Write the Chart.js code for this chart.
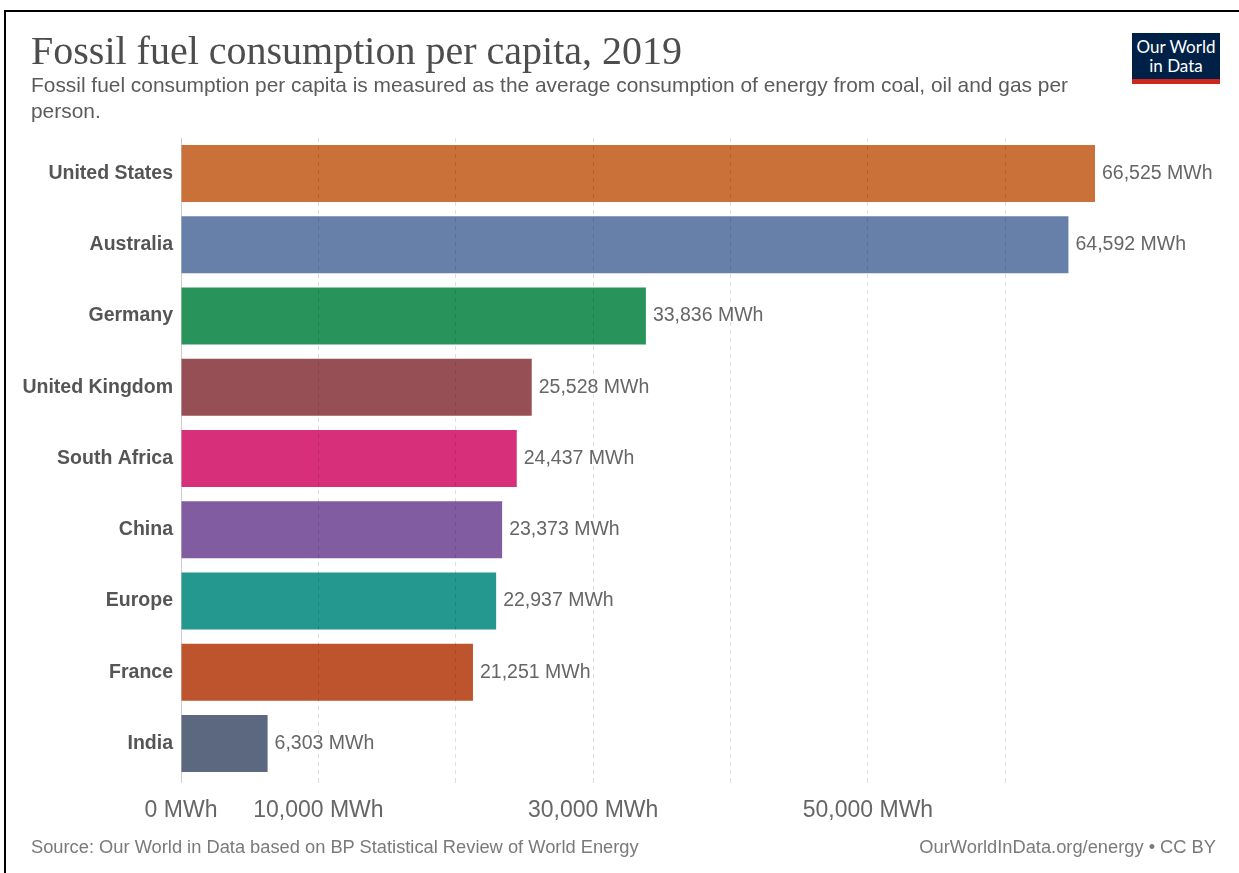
<!DOCTYPE html>
<html>
<head>
<meta charset="utf-8">
<script src="https://cdn.jsdelivr.net/npm/chart.js@4.4.1/dist/chart.umd.min.js"></script>
<style>
  html, body { margin: 0; padding: 0; background: #fff; }
  body { width: 1239px; height: 873px; position: relative; overflow: hidden; font-family: 'Liberation Sans', Arial, sans-serif; }
  #frame { position: absolute; left: 4px; top: 10px; width: 1300px; height: 900px; border-left: 2px solid #000; border-top: 2px solid #000; box-sizing: border-box; pointer-events: none; }
  #title { position: absolute; left: 31px; top: 31px; font-family: 'Liberation Serif', 'Times New Roman', serif; font-size: 40px; line-height: 40px; color: #4d4d4d; white-space: nowrap; }
  #subtitle { position: absolute; left: 31px; top: 72px; font-size: 20.9px; line-height: 26px; color: #5b5b5b; white-space: nowrap; }
  #logo { position: absolute; left: 1132px; top: 33px; width: 88px; height: 51px; background: #002147; border-bottom: 5px solid #ce261e; box-sizing: border-box; color: #fff; font-family: Lato, 'Open Sans', sans-serif; font-size: 17px; line-height: 19px; text-align: center; padding-top: 4px; }
  #source { position: absolute; left: 31px; top: 836px; font-size: 18.3px; line-height: 22px; color: #7a7a7a; white-space: nowrap; }
  #credit { position: absolute; right: 23px; top: 836px; font-size: 18.3px; line-height: 22px; color: #7a7a7a; white-space: nowrap; }
  #wrap { position: absolute; left: 0; top: 0; width: 1239px; height: 873px; }
  canvas { display: block; }
</style>
</head>
<body>
<div id="wrap"><canvas id="c" width="1239" height="873" style="width:1239px;height:873px"></canvas></div>
<div id="frame"></div>
<div id="title">Fossil fuel consumption per capita, 2019</div>
<div id="subtitle">Fossil fuel consumption per capita is measured as the average consumption of energy from coal, oil and gas per<br>person.</div>
<div id="logo">Our World<br>in Data</div>
<div id="source">Source: Our World in Data based on BP Statistical Review of World Energy</div>
<div id="credit">OurWorldInData.org/energy • CC BY</div>
<script>
// ---- data ----
const categories = ['United States', 'Australia', 'Germany', 'United Kingdom', 'South Africa', 'China', 'Europe', 'France', 'India'];
const values = [66525, 64592, 33836, 25528, 24437, 23373, 22937, 21251, 6303];
const barColors = ['#ca7039', '#6780aa', '#28935a', '#974f56', '#d72f7a', '#815ca0', '#24978f', '#bd542d', '#5b6880'];
const gridTicks = [0, 10000, 20000, 30000, 40000, 50000, 60000];
const labeledTicks = [0, 10000, 30000, 50000];
const unit = 'MWh';

const fmt = v => v.toLocaleString('en-US') + ' ' + unit;

const valueLabels = {
  id: 'valueLabels',
  afterDraw(chart) {
    const ctx = chart.ctx;
    const meta = chart.getDatasetMeta(0);
    ctx.save();
    ctx.font = '19.5px "Liberation Sans", Arial, sans-serif';
    ctx.fillStyle = '#666';
    ctx.textAlign = 'left';
    ctx.textBaseline = 'middle';
    meta.data.forEach((bar, i) => {
      ctx.fillText(fmt(values[i]), bar.x + 7, bar.y);
    });
    ctx.restore();
  }
};

new Chart(document.getElementById('c'), {
  type: 'bar',
  data: {
    labels: categories,
    datasets: [{
      data: values,
      backgroundColor: barColors,
      borderWidth: 0,
      barPercentage: 0.8,
      categoryPercentage: 1.0
    }]
  },
  options: {
    indexAxis: 'y',
    responsive: false,
    maintainAspectRatio: false,
    animation: false,
    devicePixelRatio: 1,
    layout: { padding: { top: 138, right: 144, bottom: 0, left: 0 } },
    plugins: { legend: { display: false }, tooltip: { enabled: false } },
    scales: {
      x: {
        min: 0,
        max: Math.max(...values),
        afterBuildTicks(scale) {
          scale.ticks = gridTicks.map(v => ({ value: v }));
        },
        afterFit(scale) { scale.height = 94; },
        ticks: {
          autoSkip: false,
          maxRotation: 0,
          padding: 12,
          color: '#666',
          font: { family: '"Liberation Sans", Arial, sans-serif', size: 23 },
          callback: (v) => labeledTicks.includes(v) ? fmt(v) : ''
        },
        grid: {
          z: 1,
          color: (c) => (c.tick && c.tick.value === 0) ? 'rgba(0,0,0,0)' : 'rgba(0,0,0,0.13)',
          lineWidth: 1,
          tickLength: 6,
          tickColor: (c) => (c.tick && c.tick.value === 0) ? '#ccc' : 'rgba(0,0,0,0.13)',
          tickBorderDash: [4, 4]
        },
        border: { display: false, dash: [4, 4] }
      },
      y: {
        afterFit(scale) { scale.width = 181; },
        grid: { display: false, drawTicks: false },
        border: { display: true, color: '#ccc', width: 1 },
        ticks: {
          padding: 8,
          color: '#555',
          font: { family: '"Liberation Sans", Arial, sans-serif', size: 19.5, weight: 'bold' }
        }
      }
    }
  },
  plugins: [valueLabels]
});
</script>
</body>
</html>
